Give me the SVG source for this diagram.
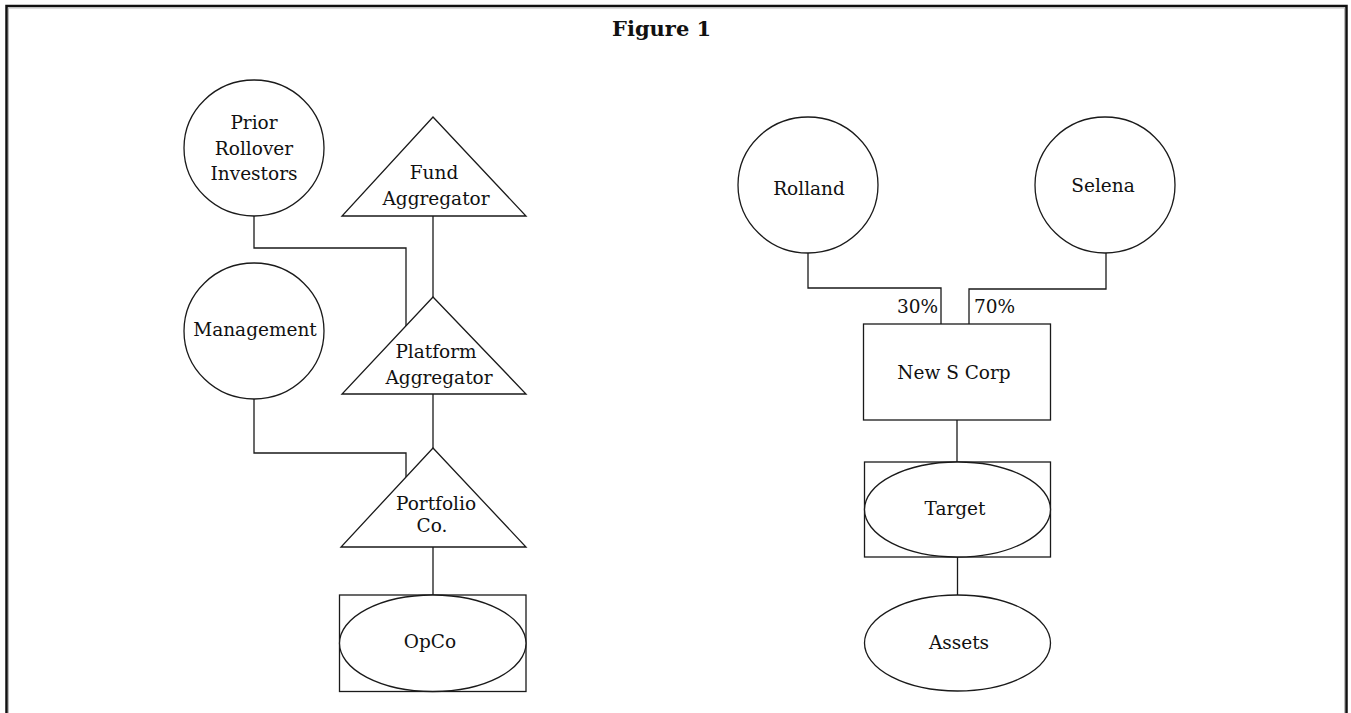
<svg xmlns="http://www.w3.org/2000/svg" width="1351" height="713" viewBox="0 0 1351 713">
  <style>
    .shape { fill: #ffffff; stroke: #1a1a1a; stroke-width: 1.3; }
    .wire { fill: none; stroke: #1a1a1a; stroke-width: 1.3; }
    .lbl { font-family: "DejaVu Serif", "Liberation Serif", serif; font-size: 18.5px; fill: #111111; text-anchor: middle; }
    .pct { font-family: "DejaVu Serif", "Liberation Serif", serif; font-size: 18.5px; fill: #111111; }
    .title { font-family: "DejaVu Serif", "Liberation Serif", serif; font-size: 21px; font-weight: bold; fill: #111111; }
  </style>

  <rect width="1351" height="713" fill="#ffffff"/>

  <!-- open frame: left, top and right edges -->
  <path d="M6.5,713 V6 H1346.5 V713" fill="none" stroke="#111111" stroke-width="2.5"/>
  <path d="M8.5,713 V8 H1344.5 V713" fill="none" stroke="#bbbbbb" stroke-width="1"/>

  <text class="title" x="612" y="36">Figure 1</text>

  <!-- connectors -->
  <g id="connectors">
    <path class="wire" d="M254,216 V248 H406 V326"/>
    <path class="wire" d="M433,216 V297"/>
    <path class="wire" d="M254,399 V453 H406 V477"/>
    <path class="wire" d="M433,394 V448"/>
    <path class="wire" d="M433,547 V595"/>
    <path class="wire" d="M808,253 V288 H941 V324"/>
    <path class="wire" d="M1106,253 V289 H969 V324"/>
    <path class="wire" d="M957,420 V462"/>
    <path class="wire" d="M957.5,557 V595"/>
  </g>

  <!-- left structure -->
  <g id="prior-rollover-investors">
    <ellipse class="shape" cx="254" cy="148" rx="70" ry="68"/>
    <text class="lbl" x="254" y="129">Prior</text>
    <text class="lbl" x="254" y="155">Rollover</text>
    <text class="lbl" x="254" y="180">Investors</text>
  </g>

  <g id="fund-aggregator">
    <polygon class="shape" points="433,117 526,216 342,216"/>
    <text class="lbl" x="434" y="179">Fund</text>
    <text class="lbl" x="436" y="205">Aggregator</text>
  </g>

  <g id="management">
    <ellipse class="shape" cx="254" cy="331" rx="70" ry="68"/>
    <text class="lbl" x="255" y="336">Management</text>
  </g>

  <g id="platform-aggregator">
    <polygon class="shape" points="433,297 526,394 342,394"/>
    <text class="lbl" x="436" y="358">Platform</text>
    <text class="lbl" x="439" y="384">Aggregator</text>
  </g>

  <g id="portfolio-co">
    <polygon class="shape" points="433,448 526,547 341,547"/>
    <text class="lbl" x="436" y="510">Portfolio</text>
    <text class="lbl" x="432" y="532">Co.</text>
  </g>

  <g id="opco">
    <rect class="shape" x="339.5" y="595" width="186.5" height="96.5"/>
    <ellipse class="shape" cx="432.75" cy="643.25" rx="93.25" ry="48.25"/>
    <text class="lbl" x="430" y="648">OpCo</text>
  </g>

  <!-- right structure -->
  <g id="rolland">
    <ellipse class="shape" cx="808" cy="185" rx="70" ry="68"/>
    <text class="lbl" x="809" y="195">Rolland</text>
  </g>

  <g id="selena">
    <ellipse class="shape" cx="1105" cy="185" rx="70" ry="68"/>
    <text class="lbl" x="1103" y="192">Selena</text>
  </g>

  <g id="share-labels">
    <text class="pct" x="938" y="312.5" text-anchor="end">30%</text>
    <text class="pct" x="974" y="312.5">70%</text>
  </g>

  <g id="new-s-corp">
    <rect class="shape" x="863.5" y="324" width="187" height="96"/>
    <text class="lbl" x="954" y="379">New S Corp</text>
  </g>

  <g id="target">
    <rect class="shape" x="864.5" y="462" width="186" height="95"/>
    <ellipse class="shape" cx="957.5" cy="509.5" rx="93" ry="47.5"/>
    <text class="lbl" x="955" y="515">Target</text>
  </g>

  <g id="assets">
    <ellipse class="shape" cx="957.5" cy="643" rx="93" ry="48"/>
    <text class="lbl" x="959" y="649">Assets</text>
  </g>
</svg>
